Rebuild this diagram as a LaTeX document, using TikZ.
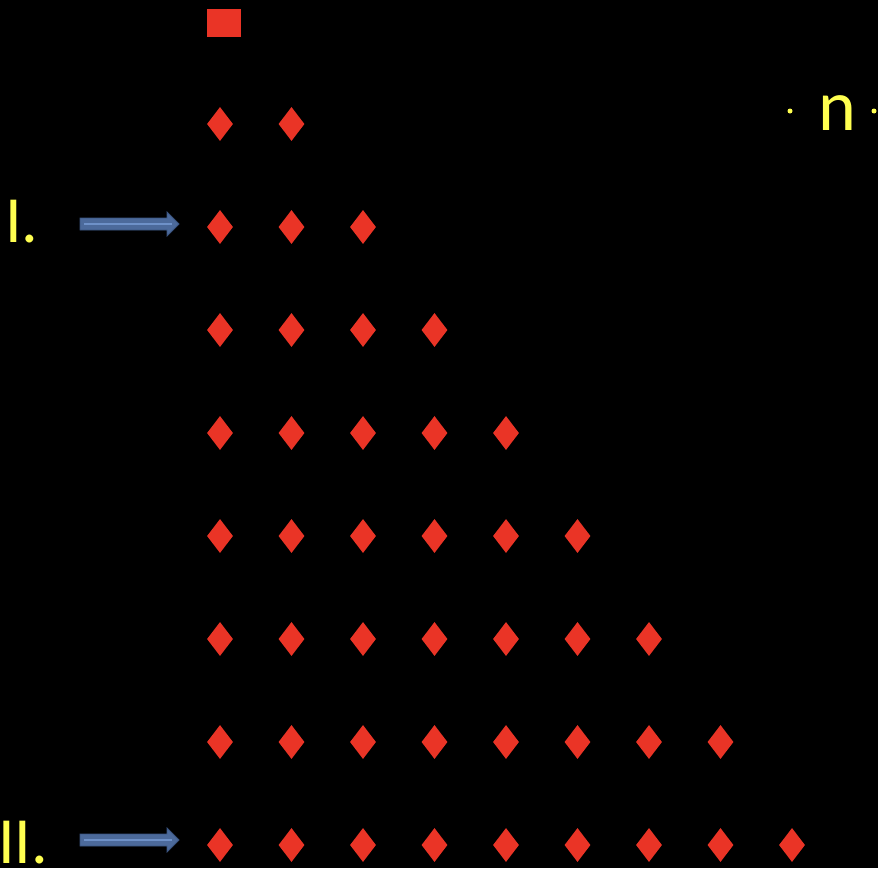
\documentclass[tikz,border=0pt]{standalone}
\usepackage{fontspec}
\setmainfont{Carlito}
\usetikzlibrary{shapes.geometric}
\definecolor{dred}{RGB}{234,52,38}
\definecolor{ylw}{RGB}{255,255,80}
\definecolor{abody}{RGB}{76,106,155}
\definecolor{aedge}{RGB}{58,84,128}
\definecolor{alight}{RGB}{110,145,200}
\tikzset{
  dmd/.style={shape=diamond, fill=dred, draw=none, inner sep=0pt, minimum width=26pt, minimum height=34pt},
  sqr/.style={shape=rectangle, fill=dred, draw=none, inner sep=0pt, minimum width=34pt, minimum height=28pt},
  lbl/.style={text=ylw, inner sep=0pt, anchor=base west},
  bigarrow/.pic={
    \fill[abody, draw=aedge, line width=0.8pt] (0,-6) -- (87,-6) -- (87,-12) -- (99,0) -- (87,12) -- (87,6) -- (0,6) -- cycle;
    \draw[alight, line width=1.2pt] (4,0) -- (92,0);
  }
}
\begin{document}
\begin{tikzpicture}[x=1pt,y=-1pt]
\fill[black] (0,0) rectangle (878,868);
\useasboundingbox (0,0) rectangle (878,868);
\node[sqr] (sq) at (224,23) {};
\foreach \r in {1,...,8}{
  \pgfmathtruncatemacro{\n}{\r+1}
  \foreach \c in {1,...,\n}{
    \node[dmd] (d\r-\c) at ({220+71.5*(\c-1)},{124+103*(\r-1)}) {};
  }
}
\node[lbl, font=\fontsize{66}{66}\selectfont] (l1) at (5,242) {I.};
\node[lbl, font=\fontsize{66}{66}\selectfont] (l2) at (-2,863) {II.};
\node[lbl, font=\fontsize{72}{72}\selectfont] (n) at (818,130) {n};
\fill[ylw] (790,111) circle (2.5);
\fill[ylw] (874,111) circle (2.5);
\pic at (80,224) {bigarrow};
\pic at (80,840) {bigarrow};
\end{tikzpicture}
\end{document}
